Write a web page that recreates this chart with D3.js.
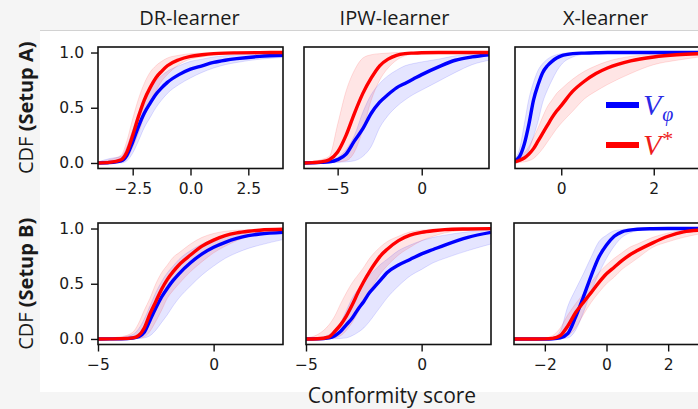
<!DOCTYPE html>
<html><head><meta charset="utf-8">
<script src="https://cdn.jsdelivr.net/npm/d3@7"></script>
<style>
html,body{margin:0;padding:0;background:#f5f5f5;}
svg{display:block;}
</style></head>
<body><svg id="chart" width="698" height="409"></svg>
<script>
// ---------- data ----------
const colTitles = ["DR-learner", "IPW-learner", "X-learner"];
const rowLabels = ["(Setup A)", "(Setup B)"];
const xAxisLabel = "Conformity score";
const yTicks = [0, 0.5, 1.0];

// Setup A, DR-learner
const drA_x        = [-4,-3.5,-3,-2.75,-2.5,-2.25,-2,-1.75,-1.5,-1.25,-1,-0.5,0,0.5,1,1.5,2,3,4];
const drA_redMean  = [0,0.005,0.03,0.10,0.25,0.42,0.57,0.68,0.77,0.83,0.88,0.935,0.965,0.98,0.99,0.995,0.997,0.999,1.0];
const drA_redLo    = [0,0,0.005,0.04,0.14,0.27,0.42,0.54,0.65,0.74,0.80,0.89,0.94,0.96,0.975,0.985,0.99,0.995,0.997];
const drA_redHi    = [0.01,0.03,0.07,0.20,0.40,0.58,0.72,0.82,0.88,0.92,0.95,0.975,0.99,0.995,1,1,1,1,1];
const drA_blueMean = [0,0.004,0.02,0.07,0.19,0.33,0.45,0.54,0.62,0.68,0.73,0.80,0.85,0.88,0.91,0.93,0.945,0.965,0.975];
const drA_blueLo   = [0,0,0,0.02,0.09,0.20,0.32,0.41,0.50,0.57,0.63,0.71,0.77,0.82,0.86,0.89,0.91,0.94,0.955];
const drA_blueHi   = [0.01,0.04,0.06,0.15,0.30,0.45,0.57,0.67,0.74,0.79,0.83,0.88,0.92,0.94,0.96,0.97,0.98,0.985,0.99];
const drA_ticks    = [-2.5, 0, 2.5];

// Setup A, IPW-learner
const ipwA_x        = [-7,-6.5,-6,-5.5,-5,-4.5,-4,-3.5,-3,-2.5,-2,-1.5,-1,-0.5,0,1,2,3,4];
const ipwA_redMean  = [0,0.003,0.01,0.03,0.10,0.25,0.45,0.63,0.77,0.88,0.94,0.975,0.99,0.995,0.998,1,1,1,1];
const ipwA_redLo    = [0,0,0,0.002,0.01,0.02,0.10,0.30,0.57,0.75,0.86,0.93,0.97,0.985,0.99,0.995,1,1,1];
const ipwA_redHi    = [0.005,0.01,0.03,0.06,0.35,0.65,0.84,0.95,0.98,0.99,0.995,1,1,1,1,1,1,1,1];
const ipwA_blueMean = [0,0.002,0.005,0.01,0.03,0.08,0.20,0.31,0.45,0.55,0.62,0.68,0.72,0.76,0.80,0.87,0.93,0.96,0.98];
const ipwA_blueLo   = [0,0,0,0,0.005,0.01,0.02,0.06,0.15,0.32,0.43,0.51,0.57,0.62,0.66,0.74,0.82,0.89,0.93];
const ipwA_blueHi   = [0.003,0.005,0.01,0.02,0.05,0.12,0.25,0.46,0.62,0.72,0.79,0.84,0.88,0.90,0.915,0.94,0.97,0.985,0.99];
const ipwA_ticks    = [-5, 0];

// Setup A, X-learner
const xA_x        = [-1,-0.9,-0.8,-0.7,-0.6,-0.5,-0.4,-0.3,-0.2,-0.1,0,0.25,0.5,0.75,1,1.5,2,2.5,3];
const xA_redMean  = [0.01,0.025,0.045,0.08,0.13,0.20,0.27,0.34,0.41,0.47,0.52,0.65,0.74,0.81,0.86,0.925,0.96,0.98,0.99];
const xA_redLo    = [0,0.005,0.01,0.02,0.04,0.08,0.13,0.19,0.25,0.31,0.36,0.47,0.58,0.65,0.71,0.81,0.89,0.93,0.96];
const xA_redHi    = [0.02,0.05,0.09,0.15,0.23,0.32,0.42,0.51,0.57,0.63,0.67,0.76,0.83,0.88,0.92,0.965,0.985,0.995,1];
const xA_blueMean = [0.02,0.06,0.17,0.35,0.57,0.71,0.82,0.88,0.92,0.95,0.97,0.99,0.995,0.998,1,1,1,1,1];
const xA_blueLo   = [0,0.01,0.04,0.12,0.24,0.38,0.55,0.66,0.75,0.83,0.89,0.96,0.985,0.995,1,1,1,1,1];
const xA_blueHi   = [0.04,0.13,0.35,0.58,0.73,0.84,0.90,0.94,0.965,0.98,0.99,1,1,1,1,1,1,1,1];
const xA_ticks    = [0, 2];

// Setup B, DR-learner
const drB_x        = [-5,-4.5,-4,-3.5,-3.25,-3,-2.75,-2.5,-2.25,-2,-1.75,-1.5,-1,-0.5,0,0.5,1,1.5,2,3];
const drB_redMean  = [0,0.001,0.003,0.01,0.03,0.10,0.23,0.34,0.45,0.54,0.61,0.67,0.76,0.84,0.895,0.935,0.96,0.975,0.985,0.993];
const drB_redLo    = [0,0,0,0.002,0.006,0.02,0.07,0.16,0.26,0.37,0.44,0.50,0.61,0.70,0.78,0.84,0.89,0.93,0.95,0.975];
const drB_redHi    = [0.003,0.01,0.02,0.06,0.14,0.26,0.37,0.50,0.60,0.67,0.74,0.78,0.86,0.92,0.955,0.975,0.985,0.99,0.995,1];
const drB_blueMean = [0,0.001,0.002,0.008,0.02,0.06,0.17,0.28,0.38,0.46,0.53,0.59,0.69,0.77,0.83,0.875,0.91,0.935,0.95,0.965];
const drB_blueLo   = [0,0,0,0.001,0.004,0.01,0.03,0.08,0.15,0.22,0.30,0.37,0.48,0.58,0.66,0.73,0.78,0.82,0.85,0.90];
const drB_blueHi   = [0.002,0.006,0.015,0.04,0.09,0.18,0.30,0.42,0.52,0.60,0.66,0.72,0.80,0.86,0.905,0.94,0.96,0.975,0.985,0.99];
const drB_ticks    = [-5, 0];

// Setup B, IPW-learner
const ipwB_x        = [-5,-4.5,-4,-3.75,-3.5,-3.25,-3,-2.75,-2.5,-2.25,-2,-1.75,-1.5,-1,-0.5,0,0.5,1,2,3];
const ipwB_redMean  = [0,0.002,0.02,0.07,0.13,0.21,0.31,0.42,0.52,0.61,0.69,0.76,0.81,0.89,0.94,0.965,0.98,0.99,0.996,0.999];
const ipwB_redLo    = [0,0,0.002,0.01,0.03,0.08,0.15,0.24,0.34,0.43,0.52,0.60,0.66,0.76,0.83,0.89,0.93,0.96,0.985,0.995];
const ipwB_redHi    = [0.01,0.04,0.13,0.21,0.32,0.42,0.51,0.58,0.65,0.73,0.79,0.84,0.88,0.93,0.97,0.985,0.995,1,1,1];
const ipwB_blueMean = [0,0.001,0.01,0.03,0.07,0.13,0.19,0.27,0.34,0.42,0.48,0.54,0.60,0.67,0.72,0.77,0.81,0.85,0.92,0.965];
const ipwB_blueLo   = [0,0,0,0.002,0.005,0.01,0.03,0.06,0.10,0.16,0.23,0.30,0.37,0.48,0.57,0.63,0.69,0.73,0.80,0.86];
const ipwB_blueHi   = [0.003,0.01,0.04,0.08,0.15,0.26,0.37,0.45,0.52,0.58,0.63,0.68,0.72,0.80,0.85,0.89,0.92,0.94,0.97,0.985];
const ipwB_ticks    = [-5, 0];

// Setup B, X-learner
const xB_x        = [-3,-2.5,-2,-1.75,-1.5,-1.25,-1,-0.75,-0.5,-0.25,0,0.25,0.5,0.75,1,1.5,2,2.5,3];
const xB_redMean  = [0,0,0.001,0.005,0.03,0.12,0.24,0.33,0.42,0.51,0.59,0.65,0.71,0.76,0.80,0.87,0.93,0.97,0.985];
const xB_redLo    = [0,0,0,0,0.005,0.03,0.10,0.22,0.33,0.42,0.50,0.56,0.63,0.68,0.73,0.83,0.88,0.92,0.95];
const xB_redHi    = [0.002,0.005,0.01,0.03,0.10,0.22,0.32,0.41,0.51,0.60,0.67,0.73,0.78,0.83,0.86,0.92,0.96,0.985,0.995];
const xB_blueMean = [0,0,0,0.002,0.01,0.05,0.20,0.38,0.57,0.74,0.85,0.93,0.97,0.985,0.993,0.998,1,1,1];
const xB_blueLo   = [0,0,0,0,0.002,0.01,0.08,0.24,0.43,0.59,0.73,0.84,0.92,0.96,0.98,0.995,1,1,1];
const xB_blueHi   = [0,0,0.002,0.01,0.07,0.30,0.45,0.59,0.74,0.88,0.94,0.98,0.99,1,1,1,1,1,1];
const xB_ticks    = [-2, 0, 2];

// ---------- layout ----------
const svg = d3.select("#chart");
const W = 698, H = 409;
const FONT = "'Open Sans', 'Noto Sans', sans-serif";
const TICKFONT = "'DejaVu Sans', sans-serif";
const RED = "#ff0000", BLUE = "#0000ff";

svg.append("rect").attr("x",0).attr("y",0).attr("width",W).attr("height",H).attr("fill","#f5f5f5");
svg.append("rect").attr("x",40).attr("y",30).attr("width",W-40).attr("height",362).attr("fill","#ffffff");
svg.append("line").attr("x1",40).attr("x2",W).attr("y1",30.5).attr("y2",30.5).attr("stroke","#d2d2d2").attr("stroke-width",1);

const panels = [
  {row:0,col:0,xs:drA_x,rm:drA_redMean,rl:drA_redLo,rh:drA_redHi,bm:drA_blueMean,bl:drA_blueLo,bh:drA_blueHi,dom:[-4,4],ticks:drA_ticks,fmt:".1f"},
  {row:0,col:1,xs:ipwA_x,rm:ipwA_redMean,rl:ipwA_redLo,rh:ipwA_redHi,bm:ipwA_blueMean,bl:ipwA_blueLo,bh:ipwA_blueHi,dom:[-7,4],ticks:ipwA_ticks,fmt:"d"},
  {row:0,col:2,xs:xA_x,rm:xA_redMean,rl:xA_redLo,rh:xA_redHi,bm:xA_blueMean,bl:xA_blueLo,bh:xA_blueHi,dom:[-1,3],ticks:xA_ticks,fmt:"d"},
  {row:1,col:0,xs:drB_x,rm:drB_redMean,rl:drB_redLo,rh:drB_redHi,bm:drB_blueMean,bl:drB_blueLo,bh:drB_blueHi,dom:[-5,3],ticks:drB_ticks,fmt:"d"},
  {row:1,col:1,xs:ipwB_x,rm:ipwB_redMean,rl:ipwB_redLo,rh:ipwB_redHi,bm:ipwB_blueMean,bl:ipwB_blueLo,bh:ipwB_blueHi,dom:[-5,3],ticks:ipwB_ticks,fmt:"d"},
  {row:1,col:2,xs:xB_x,rm:xB_redMean,rl:xB_redLo,rh:xB_redHi,bm:xB_blueMean,bl:xB_blueLo,bh:xB_blueHi,dom:[-3,3],ticks:xB_ticks,fmt:"d"}
];

const rowLefts = [[98,304,515],[98,306,514]];
const rowTops = [47, 223];
const PW = 185, PH = 121.5;

panels.forEach((p,i) => {
  const x0 = rowLefts[p.row][p.col], y0 = rowTops[p.row];
  const x = d3.scaleLinear().domain(p.dom).range([x0, x0+PW]);
  const y = d3.scaleLinear().domain([-0.05,1.05]).range([y0+PH, y0]);
  const g = svg.append("g");
  const cid = "clip"+i;
  svg.append("clipPath").attr("id",cid).append("rect").attr("x",x0).attr("y",y0).attr("width",PW).attr("height",PH);
  const plot = g.append("g").attr("clip-path",`url(#${cid})`);
  const idx = d3.range(p.xs.length);
  const area = (lo,hi) => d3.area().x(j=>x(p.xs[j])).y0(j=>y(lo[j])).y1(j=>y(hi[j])).curve(d3.curveMonotoneX);
  const line = (m) => d3.line().x(j=>x(p.xs[j])).y(j=>y(m[j])).curve(d3.curveMonotoneX);
  [[p.bl,p.bh,BLUE],[p.rl,p.rh,RED]].forEach(([lo,hi,c])=>{
    plot.append("path").datum(idx).attr("d",area(lo,hi)).attr("fill",c).attr("fill-opacity",0.1)
      .attr("stroke",c).attr("stroke-opacity",0.12).attr("stroke-width",1);
  });
  [[p.bm,BLUE],[p.rm,RED]].forEach(([m,c])=>{
    plot.append("path").datum(idx).attr("d",line(m)).attr("fill","none").attr("stroke",c).attr("stroke-width",3.4);
  });
  // axes
  const xa = g.append("g").attr("transform",`translate(0,${y0+PH})`)
    .call(d3.axisBottom(x).tickValues(p.ticks).tickFormat(d3.format(p.fmt)).tickSize(7).tickPadding(7).tickSizeOuter(0));
  xa.select(".domain").remove();
  xa.selectAll("line").attr("stroke","#111").attr("stroke-width",1.4);
  xa.selectAll("text").attr("font-family",TICKFONT).attr("font-size",15.5).attr("fill","#1a1a1a");
  if (p.col === 0) {
    const ya = g.append("g").attr("transform",`translate(${x0},0)`)
      .call(d3.axisLeft(y).tickValues(yTicks).tickFormat(d3.format(".1f")).tickSize(7).tickPadding(7).tickSizeOuter(0));
    ya.select(".domain").remove();
    ya.selectAll("line").attr("stroke","#111").attr("stroke-width",1.4);
    ya.selectAll("text").attr("font-family",TICKFONT).attr("font-size",15.5).attr("fill","#1a1a1a");
  }
  g.append("rect").attr("x",x0).attr("y",y0).attr("width",PW).attr("height",PH)
    .attr("fill","none").attr("stroke","#111").attr("stroke-width",1.6);

  if (p.row === 0) {
    svg.append("text").attr("x",x0+PW/2+(p.col===0? -1:-2)).attr("y",25)
      .attr("text-anchor","middle").attr("font-family",FONT).attr("font-size",20).attr("fill","#1a1a1a")
      .text(colTitles[p.col]);
  }
  if (p.col === 0) {
    const t = svg.append("text").attr("transform",`translate(33,${y0+PH/2}) rotate(-90)`)
      .attr("text-anchor","middle").attr("font-family",FONT).attr("font-size",20).attr("fill","#1a1a1a");
    t.append("tspan").text("CDF ");
    t.append("tspan").attr("font-weight","bold").text(rowLabels[p.row]);
  }
  if (p.row === 0 && p.col === 2) {
    // legend
    const lx = 606, items = [{c:BLUE,y:105,tc:"#2a2ae6",sub:"φ",sup:null},{c:RED,y:145,tc:"#ee1c1c",sub:null,sup:"*"}];
    items.forEach(it=>{
      svg.append("line").attr("x1",lx).attr("x2",lx+33).attr("y1",it.y).attr("y2",it.y).attr("stroke",it.c).attr("stroke-width",6);
      const tx = svg.append("text").attr("x",lx+37).attr("y",it.y+10).attr("font-family","'Liberation Serif','DejaVu Serif',serif")
        .attr("font-style","italic").attr("font-size",30).attr("fill",it.tc);
      tx.append("tspan").text("V");
      if (it.sub) tx.append("tspan").attr("font-size",20).attr("dy",6).attr("dx",1).text(it.sub);
      if (it.sup) tx.append("tspan").attr("font-size",22).attr("dy",-9).attr("dx",1).attr("font-style","normal").text(it.sup);
    });
  }
});

svg.append("text").attr("x",392).attr("y",403).attr("text-anchor","middle").attr("font-family",FONT)
  .attr("font-size",21).attr("fill","#1a1a1a").text(xAxisLabel);
</script>
</body></html>
